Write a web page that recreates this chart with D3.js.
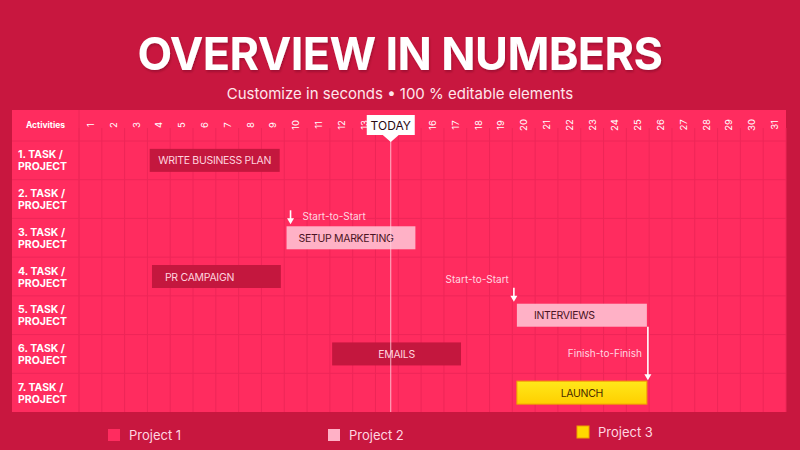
<!DOCTYPE html>
<html>
<head>
<meta charset="utf-8">
<script src="https://cdn.jsdelivr.net/npm/d3@7"></script>
<style>
  html, body { margin: 0; padding: 0; background: #c8173f; }
  svg { display: block; font-family: Inter, "Open Sans", sans-serif; }
</style>
</head>
<body>
<svg id="chart" width="800" height="450"></svg>
<script>
// data
const days = d3.range(1, 32);
const rows = ["1. TASK / PROJECT", "2. TASK / PROJECT", "3. TASK / PROJECT", "4. TASK / PROJECT",
              "5. TASK / PROJECT", "6. TASK / PROJECT", "7. TASK / PROJECT"];
const taskNames = ["WRITE BUSINESS PLAN", "SETUP MARKETING", "PR CAMPAIGN", "INTERVIEWS", "EMAILS", "LAUNCH"];
const taskRows = [0, 2, 3, 4, 5, 6];
const taskStart = [4.1, 10.1, 4.2, 20.2, 12.1, 20.2];
const taskEnd = [9.8, 15.75, 9.85, 25.9, 17.75, 25.9];
const taskProject = ["Project 1", "Project 2", "Project 1", "Project 2", "Project 1", "Project 3"];
const projects = ["Project 1", "Project 2", "Project 3"];
const today = 14.67;
const linkTypes = ["Start-to-Start", "Start-to-Start", "Finish-to-Finish"];
const linkTargets = ["SETUP MARKETING", "INTERVIEWS", "LAUNCH"];
const linkSources = [null, null, "INTERVIEWS"];

const svg = d3.select("#chart");
const W = 800, H = 450;

const panel = { left: 12, right: 786, top: 110, bottom: 412, labelCol: 79, header: 141 };

const x = d3.scaleLinear().domain([1, 32]).range([panel.labelCol, panel.right]);
const y = d3.scaleBand().domain(rows).range([panel.header, panel.bottom]);

const fillColor = d3.scaleOrdinal().domain(projects).range(["#c4173e", "#ffb1c6", "#ffd800"]);
const textColor = d3.scaleOrdinal().domain(projects).range(["#ffd3de", "#4a1322", "#4a2a00"]);

const defs = svg.append("defs");
defs.append("filter").attr("id", "shadow")
  .attr("x", "-5%").attr("y", "-20%").attr("width", "110%").attr("height", "150%")
  .append("feDropShadow")
  .attr("dx", 1).attr("dy", 2).attr("stdDeviation", 1)
  .attr("flood-color", "#5a0018").attr("flood-opacity", 0.35);

const grad = defs.append("linearGradient").attr("id", "launchGrad")
  .attr("x1", 0).attr("y1", 0).attr("x2", 0).attr("y2", 1);
grad.append("stop").attr("offset", "0%").attr("stop-color", "#ffe81a");
grad.append("stop").attr("offset", "100%").attr("stop-color", "#ffcf00");

// background
svg.append("rect").attr("width", W).attr("height", H).attr("fill", "#c8173f");

// title
svg.append("text")
  .attr("x", W / 2).attr("y", 70)
  .attr("text-anchor", "middle")
  .attr("font-size", 45).attr("font-weight", 700)
  .attr("letter-spacing", -0.6)
  .attr("fill", "#ffffff")
  .attr("filter", "url(#shadow)")
  .text("OVERVIEW IN NUMBERS");

svg.append("text")
  .attr("x", W / 2).attr("y", 99)
  .attr("text-anchor", "middle")
  .attr("font-size", 15)
  .attr("fill", "#ffe6ec")
  .text("Customize in seconds \u2022 100 % editable elements");

// panel
svg.append("rect")
  .attr("x", panel.left).attr("y", panel.top)
  .attr("width", panel.right - panel.left).attr("height", panel.bottom - panel.top)
  .attr("fill", "#ff2c5f");

// grid
const grid = svg.append("g").attr("stroke", "#ee2658").attr("stroke-width", 1);
grid.selectAll("line.v")
  .data(days.concat([32]))
  .enter().append("line")
  .attr("x1", d => x(d)).attr("x2", d => x(d))
  .attr("y1", panel.top + 18).attr("y2", panel.bottom);
grid.append("line")
  .attr("x1", panel.labelCol).attr("x2", panel.labelCol)
  .attr("y1", panel.top).attr("y2", panel.bottom);
grid.selectAll("line.h")
  .data(rows)
  .enter().append("line")
  .attr("x1", panel.left).attr("x2", panel.right)
  .attr("y1", d => y(d)).attr("y2", d => y(d));

// header
svg.append("text")
  .attr("x", (panel.left + panel.labelCol) / 2).attr("y", 128)
  .attr("text-anchor", "middle")
  .attr("font-size", 8.5).attr("font-weight", 700)
  .attr("fill", "#ffffff")
  .text("Activities");

svg.append("g").selectAll("text")
  .data(days)
  .enter().append("text")
  .attr("transform", d => `translate(${x(d + 0.5) + 3.5},125) rotate(-90)`)
  .attr("text-anchor", "middle")
  .attr("font-size", 9.5)
  .attr("fill", "#ffffff")
  .text(d => d);

// row labels
const rowLab = svg.append("g").selectAll("text")
  .data(rows)
  .enter().append("text")
  .attr("x", 18)
  .attr("font-size", 10.5).attr("font-weight", 700)
  .attr("fill", "#ffffff");
rowLab.append("tspan")
  .attr("x", 18).attr("y", d => y(d) + y.bandwidth() / 2 - 2)
  .text(d => d.split(" / ")[0] + " /");
rowLab.append("tspan")
  .attr("x", 18).attr("y", d => y(d) + y.bandwidth() / 2 + 10)
  .text(d => d.split(" / ")[1]);

// tasks
const tasks = taskNames.map((name, i) => ({
  name, row: rows[taskRows[i]], start: taskStart[i], end: taskEnd[i], project: taskProject[i]
}));
const barH = 23;
const barY = d => y(d.row) + (y.bandwidth() - barH) / 2;
const leftPad = { "SETUP MARKETING": 12, "PR CAMPAIGN": 13, "INTERVIEWS": 17 };

const bars = svg.append("g").selectAll("g")
  .data(tasks)
  .enter().append("g");

bars.append("rect")
  .attr("x", d => x(d.start)).attr("y", barY)
  .attr("width", d => x(d.end) - x(d.start)).attr("height", barH)
  .attr("fill", d => d.project === "Project 3" ? "url(#launchGrad)" : fillColor(d.project))
  .attr("stroke", d => d.project === "Project 3" ? "#f0a000" : "none")
  .attr("stroke-width", 1);

bars.append("text")
  .attr("x", d => leftPad[d.name] != null ? x(d.start) + leftPad[d.name] : (x(d.start) + x(d.end)) / 2)
  .attr("y", d => barY(d) + barH / 2 + 4)
  .attr("text-anchor", d => leftPad[d.name] != null ? "start" : "middle")
  .attr("font-size", 10.5)
  .attr("letter-spacing", -0.3)
  .attr("fill", d => textColor(d.project))
  .text(d => d.name);

// today marker
const tx = x(today);
svg.append("line")
  .attr("x1", tx).attr("x2", tx)
  .attr("y1", 140).attr("y2", panel.bottom)
  .attr("stroke", "#ffd0dc").attr("stroke-opacity", 0.85).attr("stroke-width", 1);
svg.append("path")
  .attr("d", `M${tx - 24},115 H${tx + 24} V135 H${tx + 8} L${tx},142 L${tx - 8},135 H${tx - 24} Z`)
  .attr("fill", "#ffffff");
svg.append("text")
  .attr("x", tx).attr("y", 130)
  .attr("text-anchor", "middle")
  .attr("font-size", 12)
  .attr("fill", "#2a0a12")
  .text("TODAY");

// dependency links
const byName = new Map(tasks.map(t => [t.name, t]));
const linkG = svg.append("g");
const arrowColor = "#ffffff";
const linkTextColor = "#ffd6e0";

function arrowHead(g, ax, ay) {
  g.append("path")
    .attr("d", `M${ax - 3.5},${ay - 6} L${ax + 3.5},${ay - 6} L${ax},${ay} Z`)
    .attr("fill", arrowColor);
}

linkTypes.forEach((type, i) => {
  const t = byName.get(linkTargets[i]);
  const g = linkG.append("g");
  if (type === "Start-to-Start") {
    const ax = x(t.start) + (i === 0 ? 4 : -3);
    const top = barY(t);
    g.append("line")
      .attr("x1", ax).attr("x2", ax)
      .attr("y1", top - 16).attr("y2", top - 6)
      .attr("stroke", arrowColor).attr("stroke-width", 1.6);
    arrowHead(g, ax, top - 2);
    if (i === 0) {
      g.append("text").attr("x", ax + 12).attr("y", top - 6)
        .attr("font-size", 10).attr("fill", linkTextColor).text(type);
    } else {
      g.append("text").attr("x", ax - 5).attr("y", top - 21)
        .attr("text-anchor", "end")
        .attr("font-size", 10).attr("fill", linkTextColor).text(type);
    }
  } else {
    const s = byName.get(linkSources[i]);
    const ax = x(s.end) + 1;
    const y0 = barY(s) + barH;
    const y1 = barY(t);
    g.append("line")
      .attr("x1", ax).attr("x2", ax)
      .attr("y1", y0).attr("y2", y1 - 5)
      .attr("stroke", arrowColor).attr("stroke-width", 1.6);
    arrowHead(g, ax, y1 - 1);
    g.append("text").attr("x", ax - 6).attr("y", (y0 + y1) / 2 + 3)
      .attr("text-anchor", "end")
      .attr("font-size", 10).attr("fill", linkTextColor).text(type);
  }
});

// legend
const legendX = [108, 328, 577];
const legendY = [429, 429, 426];
const legend = svg.append("g").selectAll("g")
  .data(projects)
  .enter().append("g")
  .attr("transform", (d, i) => `translate(${legendX[i]},${legendY[i]})`);
legend.append("rect")
  .attr("width", 12).attr("height", 12)
  .attr("fill", d => d === "Project 1" ? "#ff2c5f" : fillColor(d))
  .attr("stroke", d => d === "Project 3" ? "#f0a000" : "none");
legend.append("text")
  .attr("x", 21).attr("y", 11)
  .attr("font-size", 13)
  .attr("fill", "#ffd6e0")
  .text(d => d);
</script>
</body>
</html>
